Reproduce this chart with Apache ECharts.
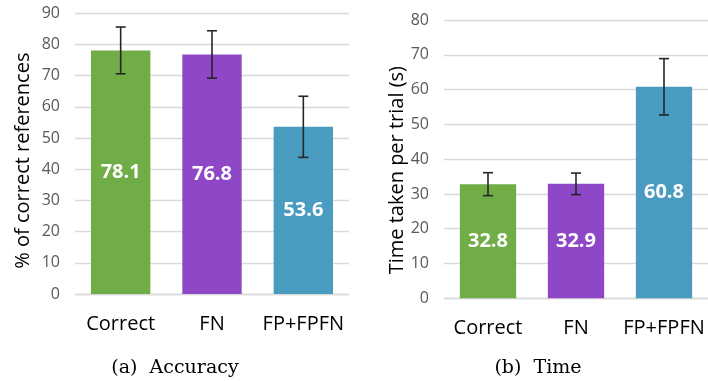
<!DOCTYPE html>
<html>
<head>
<meta charset="utf-8">
<script src="https://cdn.jsdelivr.net/npm/echarts@6/dist/echarts.min.js"></script>
<style>
  html, body { margin: 0; padding: 0; background: #fff; }
  #main { width: 708px; height: 381px; }
</style>
</head>
<body>
<div id="main"></div>
<script>
// data
var categories = ['Correct', 'FN', 'FP+FPFN'];
var accuracy = [78.1, 76.8, 53.6];
var accuracyErr = [7.5, 7.6, 9.8];
var timeTaken = [32.8, 32.9, 60.8];
var timeErr = [3.3, 3.1, 8.1];
var barColors = ['#70AD47', '#8E47C6', '#4A9BC0'];

var font = '"Open Sans", sans-serif';

// error bar drawn with a custom series
function errorSeries(xIdx, values, errs) {
  var data = [];
  for (var i = 0; i < values.length; i++) {
    data.push([i, values[i] - errs[i], values[i] + errs[i]]);
  }
  return {
    type: 'custom',
    xAxisIndex: xIdx,
    yAxisIndex: xIdx,
    z: 10,
    data: data,
    renderItem: function (params, api) {
      var lo = api.coord([api.value(0), api.value(1)]);
      var hi = api.coord([api.value(0), api.value(2)]);
      var w = 5;
      var st = { stroke: '#262626', lineWidth: 1.6 };
      return {
        type: 'group',
        children: [
          { type: 'line', shape: { x1: hi[0], y1: hi[1], x2: lo[0], y2: lo[1] }, style: st },
          { type: 'line', shape: { x1: hi[0] - w, y1: hi[1], x2: hi[0] + w, y2: hi[1] }, style: st },
          { type: 'line', shape: { x1: lo[0] - w, y1: lo[1], x2: lo[0] + w, y2: lo[1] }, style: st }
        ]
      };
    }
  };
}

function barSeries(xIdx, values, width) {
  return {
    type: 'bar',
    xAxisIndex: xIdx,
    yAxisIndex: xIdx,
    barWidth: width,
    data: values,
    itemStyle: {
      color: function (p) { return barColors[p.dataIndex]; }
    },
    label: {
      show: true,
      position: 'inside',
      color: '#fff',
      fontFamily: font,
      fontWeight: 'bold',
      fontSize: 20
    }
  };
}

function xAxis(idx) {
  return {
    type: 'category',
    gridIndex: idx,
    data: categories,
    axisTick: { show: false },
    axisLine: { lineStyle: { color: '#D9D9D9', width: 1.3 } },
    axisLabel: {
      color: '#000', fontFamily: font, fontSize: 20, margin: 20,
      interval: 0, hideOverlap: false
    }
  };
}

function yAxis(idx, max, name, gap, shift) {
  return {
    type: 'value',
    gridIndex: idx,
    min: 0,
    max: max,
    interval: 10,
    name: name,
    nameLocation: 'middle',
    nameGap: gap,
    nameTextStyle: {
      color: '#000', fontFamily: font, fontSize: 20,
      padding: [0, shift, 0, 0]
    },
    axisLine: { show: false },
    axisTick: { show: false },
    splitLine: { lineStyle: { color: '#D9D9D9', width: 1.3 } },
    axisLabel: { color: '#595959', fontFamily: font, fontSize: 16, margin: 15 }
  };
}

var chart = echarts.init(document.getElementById('main'));

var option = {
  animation: false,
  grid: [
    { left: 75, top: 13.3, width: 274, height: 280.7 },
    { left: 444, top: 20, width: 270, height: 278.3 }
  ],
  xAxis: [xAxis(0), xAxis(1)],
  yAxis: [
    yAxis(0, 90, '% of correct references', 42, 14),
    yAxis(1, 80, 'Time taken per trial (s)', 35, 22)
  ],
  series: [
    barSeries(0, accuracy, '65%'),
    errorSeries(0, accuracy, accuracyErr),
    barSeries(1, timeTaken, '64%'),
    errorSeries(1, timeTaken, timeErr)
  ],
  title: [
    {
      text: '(a)  Accuracy', left: 170, top: 354, textAlign: 'center',
      textStyle: { fontFamily: '"DejaVu Serif", serif', fontWeight: 'normal', fontSize: 19, color: '#000' }
    },
    {
      text: '(b)  Time', left: 533, top: 354, textAlign: 'center',
      textStyle: { fontFamily: '"DejaVu Serif", serif', fontWeight: 'normal', fontSize: 19, color: '#000' }
    }
  ]
};

chart.setOption(option);
</script>
</body>
</html>
